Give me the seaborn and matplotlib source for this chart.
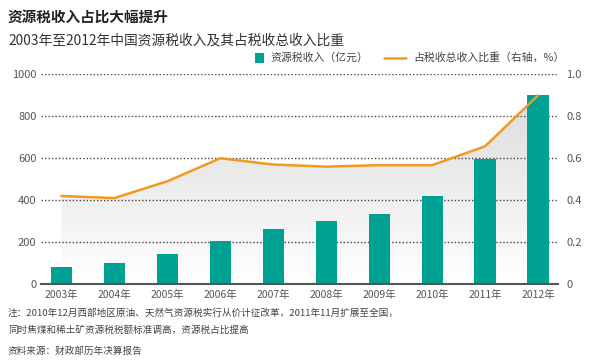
import numpy as np
import pandas as pd
import matplotlib
matplotlib.use("Agg")
import matplotlib.pyplot as plt
import seaborn as sns
from matplotlib.patches import Rectangle
from matplotlib.lines import Line2D
from matplotlib.colors import LinearSegmentedColormap

years = ["2003年", "2004年", "2005年", "2006年", "2007年",
         "2008年", "2009年", "2010年", "2011年", "2012年"]
revenue = [83, 99, 142, 207, 262, 300, 335, 418, 595, 901]
ratio = [0.42, 0.41, 0.49, 0.60, 0.57, 0.56, 0.567, 0.567, 0.657, 0.90]
left_ticks = [0, 200, 400, 600, 800, 1000]
right_ticks = [0, 0.2, 0.4, 0.6, 0.8, 1.0]
right_labels = ["0", "0.2", "0.4", "0.6", "0.8", "1.0"]

title = "资源税收入占比大幅提升"
subtitle = "2003年至2012年中国资源税收入及其占税收总收入比重"
legend_bar = "资源税收入（亿元）"
legend_line = "占税收总收入比重（右轴，%）"
note1 = "注：2010年12月西部地区原油、天然气资源税实行从价计征改革，2011年11月扩展至全国，"
note2 = "同时焦煤和稀土矿资源税税额标准调高，资源税占比提高"
source = "资料来源：财政部历年决算报告"

TEAL = "#00a192"
ORANGE = "#f39a1e"
GRID = "#444444"
TXT = "#555555"

sns.set_theme(style="white")
plt.rcParams["font.family"] = ["Noto Sans CJK SC", "DejaVu Sans"]

df = pd.DataFrame({"year": years, "revenue": revenue, "ratio": ratio})

fig = plt.figure(figsize=(5.9, 3.63), dpi=100)
ax1 = fig.add_axes([0.069, 0.2176, 0.877, 0.5774])
ax2 = ax1.twinx()

sns.barplot(data=df, x="year", y="revenue", color=TEAL, width=0.4,
            saturation=1, ax=ax1, zorder=3)
for p in ax1.patches:
    p.set_edgecolor("none")

xpos = np.arange(len(years))
poly = ax1.fill_between(xpos, ratio, 0, transform=ax2.transData,
                        facecolor="none", edgecolor="none", zorder=0.2)
cmap = LinearSegmentedColormap.from_list("g", ["#ffffff", "#dcdcde"])
grad = np.linspace(0, 1, 256).reshape(-1, 1)
im = ax1.imshow(grad, cmap=cmap, origin="lower", aspect="auto",
                extent=[xpos[0], xpos[-1], 0, 900], zorder=0.1)
im.set_clip_path(poly.get_paths()[0], transform=ax2.transData)

sns.lineplot(x=xpos, y=ratio, ax=ax2, color=ORANGE, linewidth=1.8, zorder=5)

ax1.set_xlim(-0.39, 9.38)
ax1.set_ylim(0, 1000)
ax2.set_ylim(0, 1.0)
ax1.set_yticks(left_ticks)
ax1.set_yticklabels([str(t) for t in left_ticks])
ax2.set_yticks(right_ticks)
ax2.set_yticklabels(right_labels)
ax1.set_xticks(xpos)
ax1.set_xticklabels(years)

ax1.set_axisbelow(True)
ax1.grid(axis="y", color=GRID, linestyle=(0, (1, 1.5)), linewidth=1.0)
ax1.grid(axis="x", visible=False)
ax2.grid(False)
ax1.set_xlabel("")
ax1.set_ylabel("")
ax2.set_ylabel("")
for a in (ax1, ax2):
    for s in a.spines.values():
        s.set_visible(False)
    a.patch.set_visible(False)
ax1.spines["bottom"].set_visible(True)
ax1.spines["bottom"].set_color("#555555")
ax1.spines["bottom"].set_linewidth(1.5)
ax1.spines["bottom"].set_zorder(6)

ax1.tick_params(axis="y", length=0, pad=3, labelsize=8, labelcolor=TXT)
ax1.tick_params(axis="x", length=0, pad=4, labelsize=7.5, labelcolor=TXT)
ax2.tick_params(axis="y", length=0, pad=6, labelsize=8, labelcolor=TXT)
ax2.set_zorder(ax1.get_zorder() + 1)

W, H = 590, 363
def fx(px):
    return px / W
def fy(py):
    return 1 - py / H

fig.text(fx(8), fy(17), title, fontsize=10.5, fontweight="bold",
         color="#222222", va="center", ha="left")
fig.text(fx(8), fy(40), subtitle, fontsize=9.9, color="#333333",
         va="center", ha="left")

fig.add_artist(Rectangle((fx(255), fy(62.5)), fx(9), 9 / H,
                         transform=fig.transFigure, facecolor=TEAL,
                         edgecolor="none"))
fig.text(fx(270), fy(58), legend_bar, fontsize=7.8, color="#444444",
         va="center", ha="left")
fig.add_artist(Line2D([fx(384), fx(406)], [fy(58), fy(58)],
                      transform=fig.transFigure, color=ORANGE, linewidth=1.8))
fig.text(fx(413), fy(58), legend_line, fontsize=7.8, color="#444444",
         va="center", ha="left")

fig.text(fx(8), fy(313), note1, fontsize=6.9, color="#444444",
         va="center", ha="left")
fig.text(fx(8), fy(330), note2, fontsize=6.9, color="#444444",
         va="center", ha="left")
fig.text(fx(8), fy(351), source, fontsize=6.9, color="#444444",
         va="center", ha="left")

fig.savefig("out.png", dpi=100)
